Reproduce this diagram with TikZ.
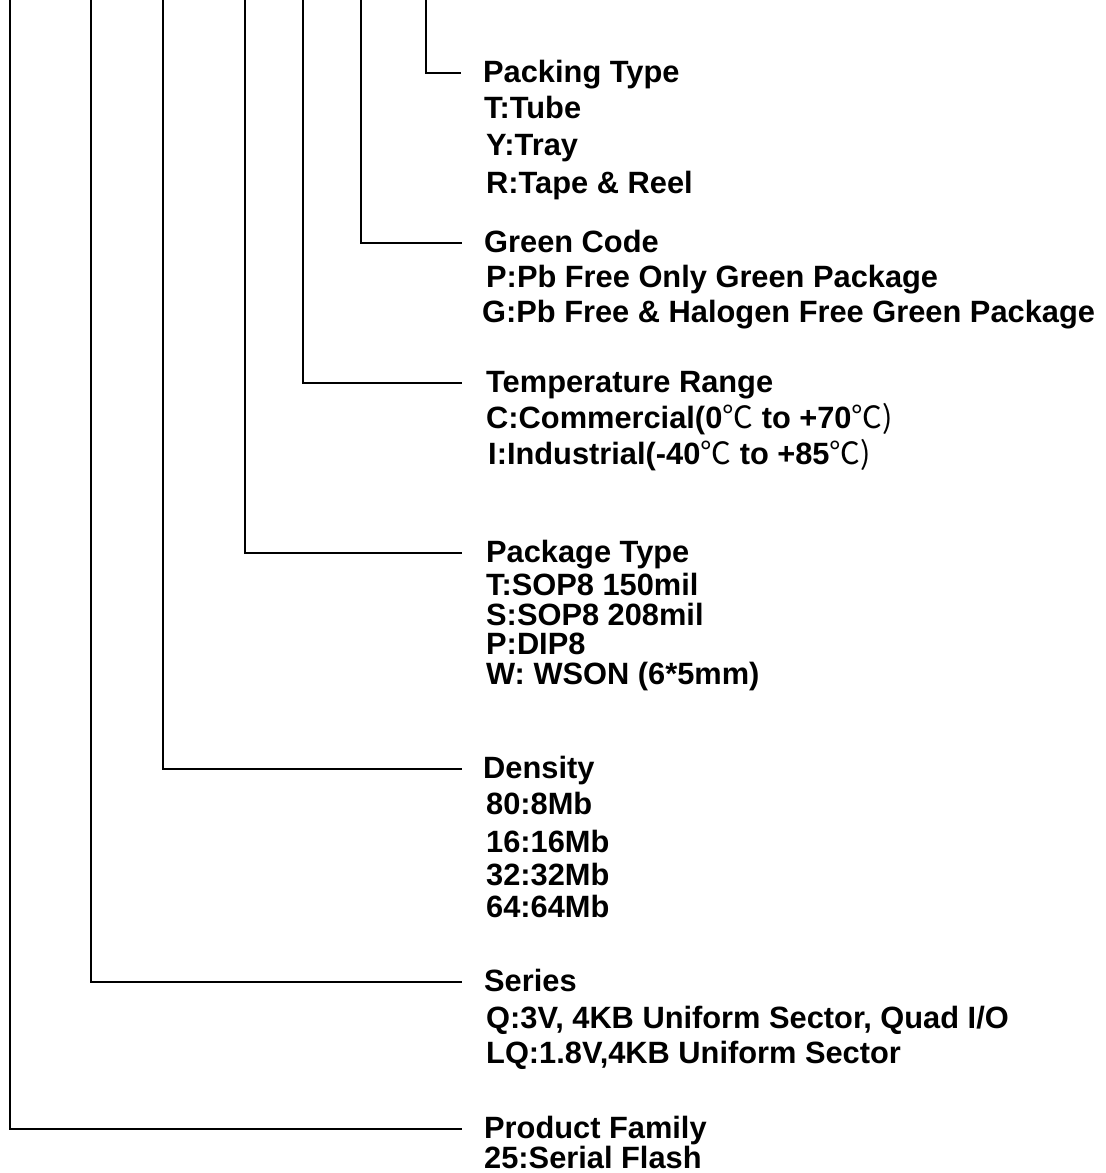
\documentclass[tikz,border=0pt]{standalone}
\usepackage{fontspec}
\setmainfont{Liberation Sans}
\newfontfamily\cjk{Noto Sans CJK SC}
\usepackage{tikz}
\usetikzlibrary{positioning}

\tikzset{
  conn/.style={line width=1.5pt, black},
  head/.style={anchor=base west, inner sep=0pt, text height=22pt, text depth=4pt, font=\fontsize{30.8}{36}\selectfont\bfseries},
  item/.style={anchor=base west, inner sep=0pt, font=\fontsize{30.8}{36}\selectfont\bfseries}
}
\newcommand{\degc}{{\cjk\mdseries ℃}}

\begin{document}
\begin{tikzpicture}[x=1pt, y=-1pt]
    \useasboundingbox (0,0) rectangle (1106,1173);

    % tops of the stems
    \coordinate (s1) at (10,0);
    \coordinate (s2) at (91,0);
    \coordinate (s3) at (163,0);
    \coordinate (s4) at (245,0);
    \coordinate (s5) at (303,0);
    \coordinate (s6) at (361,0);
    \coordinate (s7) at (426,0);

    % packing
    \node[head] (pack) at (483,82) {Packing Type};
    \node[item] (pack1) at (484,118) {T:Tube};
    \node[item] (pack2) at (486,155) {Y:Tray};
    \node[item] (pack3) at (486,193) {R:Tape \& Reel};

    % green code
    \node[head] (green) at (484,252) {Green Code};
    \node[item] (green1) at (486,287) {P:Pb Free Only Green Package};
    \node[item] (green2) at (482,322) {G:Pb Free \& Halogen Free Green Package};

    % temperature
    \node[head] (temp) at (486,392) {Temperature Range};
    \node[item] (temp1) at (486,428) {C:Commercial(0\degc\ to +70\degc{\cjk\mdseries )}};
    \node[item] (temp2) at (488,464) {I:Industrial(-40\degc\ to +85\degc{\cjk\mdseries )}};

    % package
    \node[head] (pkg) at (486,562) {Package Type};
    \node[item] (pkg1) at (486,595) {T:SOP8 150mil};
    \node[item] (pkg2) at (486,625) {S:SOP8 208mil};
    \node[item] (pkg3) at (486,654) {P:DIP8};
    \node[item] (pkg4) at (486,684) {W: WSON (6*5mm)};

    % density
    \node[head] (dens) at (483,778) {Density};
    \node[item] (dens1) at (486,814) {80:8Mb};
    \node[item] (dens2) at (486,852) {16:16Mb};
    \node[item] (dens3) at (486,885) {32:32Mb};
    \node[item] (dens4) at (486,917) {64:64Mb};

    % series
    \node[head] (ser) at (484,991) {Series};
    \node[item] (ser1) at (486,1028) {Q:3V, 4KB Uniform Sector, Quad I/O};
    \node[item] (ser2) at (486,1063) {LQ:1.8V,4KB Uniform Sector};

    % product family
    \node[head] (fam) at (484,1138) {Product Family};
    \node[item] (fam1) at (484,1168) {25:Serial Flash};

    % stems
    \draw[conn] (s7) |- ([xshift=-22pt]pack.west);
    \draw[conn] (s6) |- ([xshift=-22pt]green.west);
    \draw[conn] (s5) |- ([xshift=-24pt]temp.west);
    \draw[conn] (s4) |- ([xshift=-24pt]pkg.west);
    \draw[conn] (s3) |- ([xshift=-21pt]dens.west);
    \draw[conn] (s2) |- ([xshift=-22pt]ser.west);
    \draw[conn] (s1) |- ([xshift=-22pt]fam.west);
\end{tikzpicture}
\end{document}
